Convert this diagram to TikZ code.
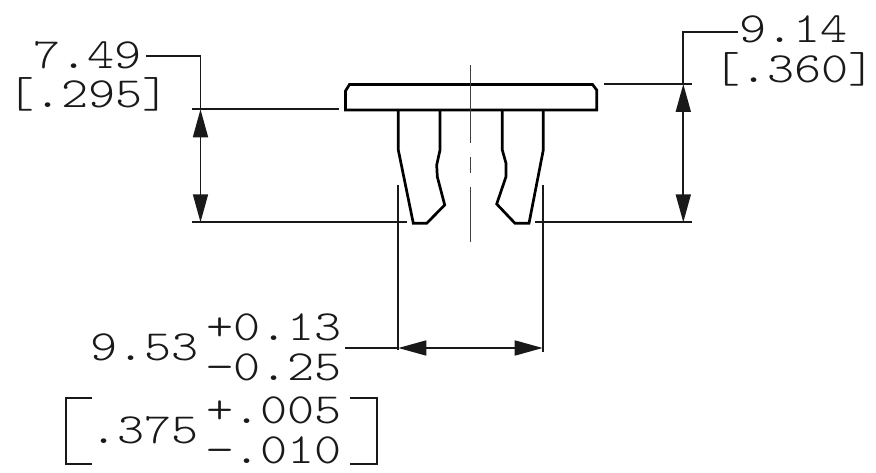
\documentclass[tikz,border=0pt]{standalone}
\usepackage{fontspec}
\newfontfamily\drawfont{Latin Modern Mono Light}[FakeStretch=1.2]
\usetikzlibrary{arrows.meta}
\tikzset{
  part/.style={line width=2.7pt,line join=miter,black},
  thin line/.style={line width=1.7pt,black!90},
  center line/.style={line width=1.5pt,black!75},
  dim/.style={thin line,{Triangle[length=28pt,width=15pt]}-{Triangle[length=28pt,width=15pt]}},
  lab/.style={font=\drawfont\fontsize{43}{43}\selectfont,inner sep=0pt,anchor=base west,text=black!90},
}
\begin{document}
\begin{tikzpicture}[x=1pt,y=-1pt]
\useasboundingbox (0,0) rectangle (876,473);
% part
\draw[part] (345.5,110) -- (345.5,91) -- (349.5,84.5) -- (592.5,84.5) -- (596.7,90) -- (596.7,110) -- cycle;
\draw[part] (398.3,110) -- (398.3,150) -- (413.3,223.3) -- (426.7,223.3) -- (444.7,205) -- (437.3,176.7) -- (436.7,165) -- (440,150) -- (440,110);
\draw[part] (502.3,110) -- (502.3,150) -- (506,163.3) -- (506,176.7) -- (496.7,204) -- (515,223.3) -- (529,223.3) -- (543.3,150) -- (543.3,110);
% centre line
\draw[center line] (470.3,65) -- (470.3,142.7);
\draw[center line] (470.3,157) -- (470.3,172.7);
\draw[center line] (470.3,186.7) -- (470.3,241.7);
% named points
\coordinate (Ltop) at (200.5,109.3);
\coordinate (Lbot) at (200.5,222.3);
\coordinate (Lknee) at (200.5,56);
\coordinate (Rtop) at (683.3,84);
\coordinate (Rbot) at (683.3,222.3);
\coordinate (Rknee) at (683.3,31.7);
\coordinate (Wl) at (398.3,348);
\coordinate (Wr) at (542.7,348);
% labels
\node[lab] (a) at (33,69) {7.49};
\node[lab] (b) at (7,108) {[.295]};
\node[lab] (c) at (739,43) {9.14};
\node[lab] (d) at (713,83) {[.360]};
\node[lab] (e) at (90,360) {9.53};
\node[lab] (f) at (206,340) {+0.13};
\node[lab] (g) at (206,380) {−0.25};
\node[lab] (h) at (90,443) {.375};
\node[lab] (i) at (206,423) {+.005};
\node[lab] (j) at (206,463) {−.010};
% extension lines
\draw[thin line] (192,109.3) -- (339,109.3);
\draw[thin line] (192,222.3) -- (406.7,222.3);
\draw[thin line] (604.3,84) -- (692,84);
\draw[thin line] (535,222.3) -- (692.3,222.3);
\draw[thin line] (398.3,185) -- (398.3,350);
\draw[thin line] (542.7,185) -- (542.7,352);
% dimensions
\draw[dim] (Ltop) -- (Lbot);
\draw[dim] (Rtop) -- (Rbot);
\draw[dim] (Wl) -- (Wr);
% leaders
\draw[thin line] (146,56) -- (Lknee) -- (Ltop);
\draw[thin line] (737.7,31.7) -- (Rknee) -- (Rtop);
\draw[thin line] (345,348) -- (Wl);
% big brackets
\draw[thin line] (92,397.7) -- (65.7,397.7) -- (65.7,464.3) -- (92,464.3);
\draw[thin line] (350,397.7) -- (376.7,397.7) -- (376.7,464.3) -- (350,464.3);
\end{tikzpicture}
\end{document}
